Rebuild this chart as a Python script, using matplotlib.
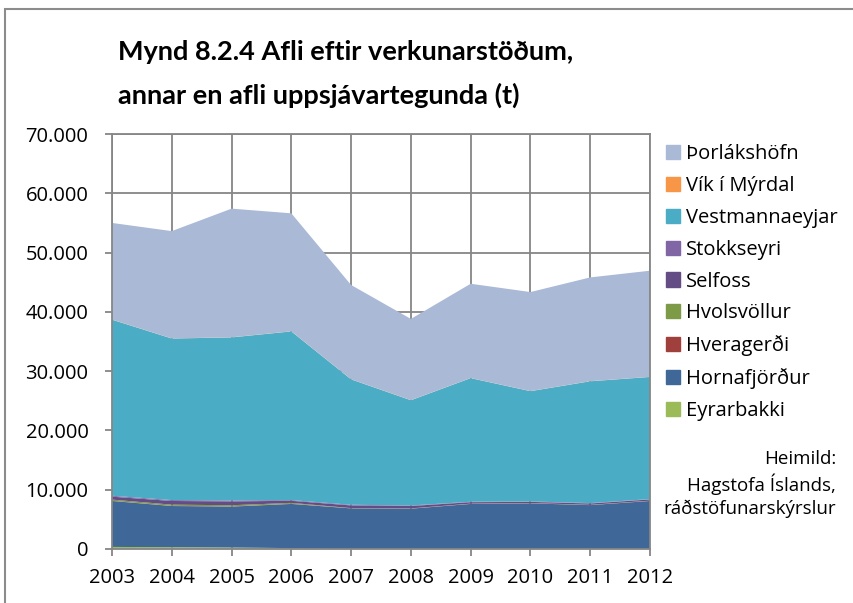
import numpy as np
import matplotlib
matplotlib.use("Agg")
import matplotlib.pyplot as plt
from matplotlib.patches import Rectangle
from matplotlib.ticker import FuncFormatter

plt.rcParams['font.family'] = ['Open Sans', 'DejaVu Sans']

years = [2003, 2004, 2005, 2006, 2007, 2008, 2009, 2010, 2011, 2012]

# afli (t) eftir verkunarstöð, neðst upp í stafla
eyrarbakki     = [350, 300, 250, 150, 0, 0, 0, 0, 0, 0]
hornafjordur   = [7750, 6950, 6900, 7450, 6850, 6800, 7600, 7700, 7400, 8100]
hveragerdi     = [30, 30, 30, 30, 20, 20, 20, 20, 20, 20]
hvolsvollur    = [200, 200, 200, 150, 30, 30, 30, 30, 30, 30]
selfoss        = [500, 620, 650, 350, 450, 400, 250, 200, 230, 210]
stokkseyri     = [150, 150, 160, 120, 110, 90, 70, 70, 60, 60]
vestmannaeyjar = [29700, 27250, 27500, 28450, 21150, 17750, 20850, 18600, 20550, 20600]
vik            = [20, 20, 20, 20, 20, 20, 20, 20, 20, 20]
thorlakshofn   = [16300, 18100, 21700, 19900, 15900, 13700, 15900, 16700, 17500, 17900]

names = ["Eyrarbakki", "Hornafjörður", "Hveragerði", "Hvolsvöllur", "Selfoss",
         "Stokkseyri", "Vestmannaeyjar", "Vík í Mýrdal", "Þorlákshöfn"]
series = [eyrarbakki, hornafjordur, hveragerdi, hvolsvollur, selfoss,
          stokkseyri, vestmannaeyjar, vik, thorlakshofn]
colors = ["#9BBB59", "#3F6898", "#A0403D", "#7D9A47", "#644D84",
          "#8166A5", "#4BACC6", "#F79646", "#AAB9D6"]

fig = plt.figure(figsize=(8.54, 6.03), dpi=100)
ax = fig.add_axes([112/854, 1-549/603, (650-112)/854, (549-134)/603])

polys = ax.stackplot(years, *series, colors=colors, labels=names, linewidth=0)

grid_c = "#868686"
ax.set_xlim(2003, 2012)
ax.set_ylim(0, 70000)
ax.set_xticks(years)
ax.set_yticks(np.arange(0, 70001, 10000))
ax.yaxis.set_major_formatter(FuncFormatter(lambda v, p: f"{int(v):,}".replace(",", ".")))
ax.set_axisbelow(True)
ax.grid(True, color=grid_c, linewidth=1.3)
for s in ax.spines.values():
    s.set_color(grid_c)
    s.set_linewidth(1.3)
ax.tick_params(direction="out", length=5, width=1.3, color=grid_c,
               labelsize=14.5, labelcolor="black")
ax.tick_params(axis="y", pad=12)
ax.tick_params(axis="x", pad=9)

# titill
fig.text(118/854, 1-52/603, "Mynd 8.2.4 Afli eftir verkunarstöðum,",
         fontsize=19.5, fontweight="bold", va="center", ha="left", family="Lato")
fig.text(118/854, 1-95/603, "annar en afli uppsjávartegunda (t)",
         fontsize=19.5, fontweight="bold", va="center", ha="left", family="Lato")

# skýringar, efsta lag efst
handles = [Rectangle((0, 0), 1, 1, color=c) for c in colors[::-1]]
fig.legend(handles, names[::-1], loc="upper left",
           bbox_to_anchor=(666/854, 1-144/603), frameon=False, fontsize=14.5,
           handlelength=0.7, handleheight=0.7, handletextpad=0.3,
           labelspacing=0.59, borderaxespad=0, borderpad=0)

fig.text(836/854, 1-484/603, "Heimild:\nHagstofa Íslands,\nráðstöfunarskýrslur",
         fontsize=13.5, ha="right", va="center", linespacing=1.3)

# rammi um myndina
fig.patches.append(Rectangle((5/854, -0.1), 1.0, 1-9/603+0.1, transform=fig.transFigure,
                             fill=False, edgecolor="#8c8c8c", linewidth=1.5))

fig.savefig("out.png", dpi=100)
